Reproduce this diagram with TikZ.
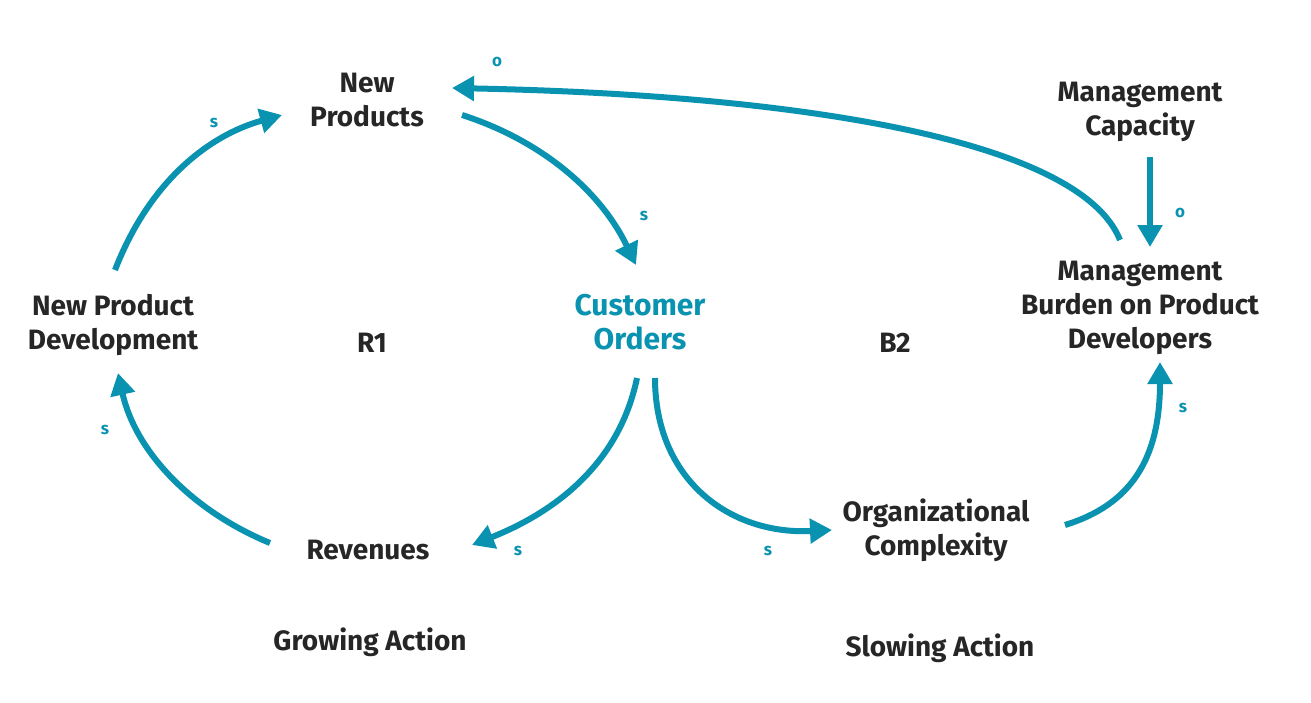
\documentclass[tikz,border=0pt]{standalone}
\usepackage{fontspec}
\setmainfont{Fira Sans}
\usetikzlibrary{arrows.meta}
\definecolor{teal1}{HTML}{0A93B0}
\begin{document}
\begin{tikzpicture}[x=1pt,y=-1pt,
 lbl/.style={align=center,font=\fontsize{28}{34}\selectfont\bfseries,text=black!85},
 pol/.style={font=\fontsize{17}{17}\selectfont\bfseries,text=teal1},
 lnk/.style={draw=teal1,line width=6pt,-{Triangle[length=22pt,width=24pt]}}]
\useasboundingbox (0,0) rectangle (1311,702);
\node[lbl] (np) at (367,100) {New\\Products};
\node[lbl,text=teal1,font=\fontsize{30}{34}\selectfont\bfseries] (co) at (640,322) {Customer\\Orders};
\node[lbl] (npd) at (113,325) {New Product\\Development};
\node[lbl] (r1) at (372,343) {R1};
\node[lbl] (b2) at (895,343) {B2};
\node[lbl] (mb) at (1140,308) {Management\\Burden on Product\\Developers};
\node[lbl] (mc) at (1140,112) {Management\\Capacity};
\node[lbl] (rev) at (368,550) {Revenues};
\node[lbl] (oc) at (936,530) {Organizational\\Complexity};
\node[lbl] (ga) at (370,642) {Growing Action};
\node[lbl] (sa) at (940,648) {Slowing Action};
\coordinate (a1) at (115,270); \coordinate (b1) at (282,115);
\coordinate (a2) at (462,115); \coordinate (b2e) at (636,265);
\coordinate (a3) at (1120,240); \coordinate (b3) at (452,88);
\coordinate (a4) at (1150,157); \coordinate (b4) at (1150,247);
\coordinate (a5) at (637,378); \coordinate (b5) at (472,545);
\coordinate (a6) at (270,543); \coordinate (b6) at (118,373);
\coordinate (a7) at (655,378); \coordinate (b7) at (832,530);
\coordinate (a8) at (1065,525); \coordinate (b8) at (1160,362);
\draw[lnk] (a1) .. controls (150,180) and (210,135) .. (b1);
\draw[lnk] (a2) .. controls (540,140) and (600,190) .. (b2e);
\draw[lnk] (a3) .. controls (1080,140) and (800,95) .. (b3);
\draw[lnk] (a4) -- (b4);
\draw[lnk] (a5) .. controls (620,460) and (560,510) .. (b5);
\draw[lnk] (a6) .. controls (190,510) and (135,450) .. (b6);
\draw[lnk] (a7) .. controls (655,480) and (730,535) .. (b7);
\draw[lnk] (a8) .. controls (1130,505) and (1160,460) .. (b8);
\node[pol] (s1) at (214,123) {s};
\node[pol] (s2) at (644,216) {s};
\node[pol] (o1) at (497,62) {o};
\node[pol] (o2) at (1180,213) {o};
\node[pol] (s3) at (518,551) {s};
\node[pol] (s4) at (105,430) {s};
\node[pol] (s5) at (768,551) {s};
\node[pol] (s6) at (1183,408) {s};
\end{tikzpicture}
\end{document}
